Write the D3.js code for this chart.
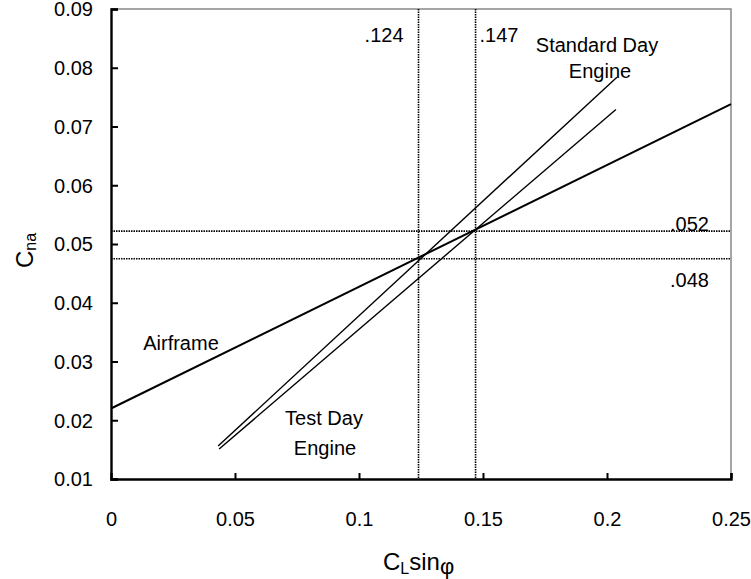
<!DOCTYPE html>
<html>
<head>
<meta charset="utf-8">
<script src="https://d3js.org/d3.v7.min.js"></script>
<style>
  body { margin: 0; background: #fff; }
  text { font-family: "Liberation Sans", Arial, sans-serif; fill: #000; }
</style>
</head>
<body>
<div id="container"></div>
<script>
// chart values
var xTicks = [0, 0.05, 0.1, 0.15, 0.2, 0.25];
var yTicks = [0.01, 0.02, 0.03, 0.04, 0.05, 0.06, 0.07, 0.08, 0.09];
var airframe = [[0, 0.0220], [0.25, 0.0738]];
var standardDay = [[0.0432, 0.0156], [0.2040, 0.0784]];
var testDay = [[0.0436, 0.0151], [0.2036, 0.0729]];
var refX = [0.124, 0.147];
var refXLabels = [".124", ".147"];
var refY = [0.0522, 0.0475];
var refYLabels = [".052", ".048"];

var width = 751, height = 579;
var m = {left: 111, top: 9, right: 20, bottom: 100};
var fs = '20px';

var svg = d3.select('#container')
  .append('svg')
  .attr('width', width)
  .attr('height', height);

var x = d3.scaleLinear().domain([0, 0.25]).range([m.left, width - m.right]);
var y = d3.scaleLinear().domain([0.01, 0.09]).range([height - m.bottom, m.top]);

// frame top + right (grey)
svg.append('path')
  .attr('d', 'M' + x(0) + ',' + y(0.09) + 'H' + x(0.25) + 'V' + y(0.01))
  .attr('fill', 'none')
  .attr('stroke', '#888')
  .attr('stroke-width', 1.5);

// reference dotted lines
svg.selectAll('.vref').data(refX).enter().append('line')
  .attr('x1', d => x(d)).attr('x2', d => x(d))
  .attr('y1', y(0.09)).attr('y2', y(0.01))
  .attr('stroke', '#000').attr('stroke-width', 1.6)
  .attr('stroke-dasharray', '1.5,1');

svg.selectAll('.href').data(refY).enter().append('line')
  .attr('x1', x(0)).attr('x2', x(0.25))
  .attr('y1', d => y(d)).attr('y2', d => y(d))
  .attr('stroke', '#000').attr('stroke-width', 1.6)
  .attr('stroke-dasharray', '1.5,1');

var line = d3.line().x(d => x(d[0])).y(d => y(d[1]));

svg.append('path').datum(airframe)
  .attr('d', line).attr('fill', 'none')
  .attr('stroke', '#000').attr('stroke-width', 2);
svg.append('path').datum(standardDay)
  .attr('d', line).attr('fill', 'none')
  .attr('stroke', '#000').attr('stroke-width', 1.4);
svg.append('path').datum(testDay)
  .attr('d', line).attr('fill', 'none')
  .attr('stroke', '#000').attr('stroke-width', 1.4);

// axes
var xAxis = svg.append('g')
  .attr('transform', 'translate(0,' + y(0.01) + ')')
  .call(d3.axisBottom(x).tickValues(xTicks).tickSize(-6)
    .tickFormat(d => d === 0 ? '0' : String(d)));
var yAxis = svg.append('g')
  .attr('transform', 'translate(' + x(0) + ',0)')
  .call(d3.axisLeft(y).tickValues(yTicks).tickSize(-7).tickPadding(18)
    .tickFormat(d3.format('.2f')));

[xAxis, yAxis].forEach(g => {
  g.select('.domain').attr('stroke', '#000').attr('stroke-width', 2.4);
  g.selectAll('.tick line').attr('stroke', '#000').attr('stroke-width', 2);
  g.selectAll('.tick text').style('font-size', fs)
    .style('font-family', '"Liberation Sans", Arial, sans-serif');
});
xAxis.select('.tick:first-of-type line').remove();
xAxis.selectAll('.tick text').attr('y', 47).attr('dy', 0);
yAxis.selectAll('.tick text').attr('dy', '0.34em');

// reference labels
svg.selectAll('.rxl').data(refX).enter().append('text')
  .attr('x', (d, i) => i === 0 ? x(d) - 15 : x(d) + 4)
  .attr('y', 42)
  .attr('text-anchor', (d, i) => i === 0 ? 'end' : 'start')
  .style('font-size', fs)
  .text((d, i) => refXLabels[i]);

svg.selectAll('.ryl').data(refY).enter().append('text')
  .attr('x', 670)
  .attr('y', (d, i) => i === 0 ? y(d) : y(d) + 28)
  .style('font-size', fs)
  .text((d, i) => refYLabels[i]);

// series labels
var labels = [
  {t: 'Standard Day', x: 597, y: 52},
  {t: 'Engine', x: 600, y: 78},
  {t: 'Airframe', x: 181, y: 350},
  {t: 'Test Day', x: 324, y: 425},
  {t: 'Engine', x: 325, y: 455}
];
svg.selectAll('.sl').data(labels).enter().append('text')
  .attr('x', d => d.x).attr('y', d => d.y)
  .attr('text-anchor', 'middle')
  .style('font-size', fs)
  .text(d => d.t);

// axis titles
var xt = svg.append('text')
  .attr('x', 383).attr('y', 570)
  .style('font-size', '24px');
xt.append('tspan').text('C');
xt.append('tspan').attr('dy', 4).style('font-size', '16px').text('L');
xt.append('tspan').attr('dy', -4).text('sin');
xt.append('tspan').attr('dy', 4).style('font-size', '22px').text('φ');

var yt = svg.append('text')
  .attr('transform', 'translate(33,268) rotate(-90)')
  .style('font-size', '24px');
yt.append('tspan').text('C');
yt.append('tspan').attr('dy', 3).style('font-size', '16px').text('na');
</script>
</body>
</html>
